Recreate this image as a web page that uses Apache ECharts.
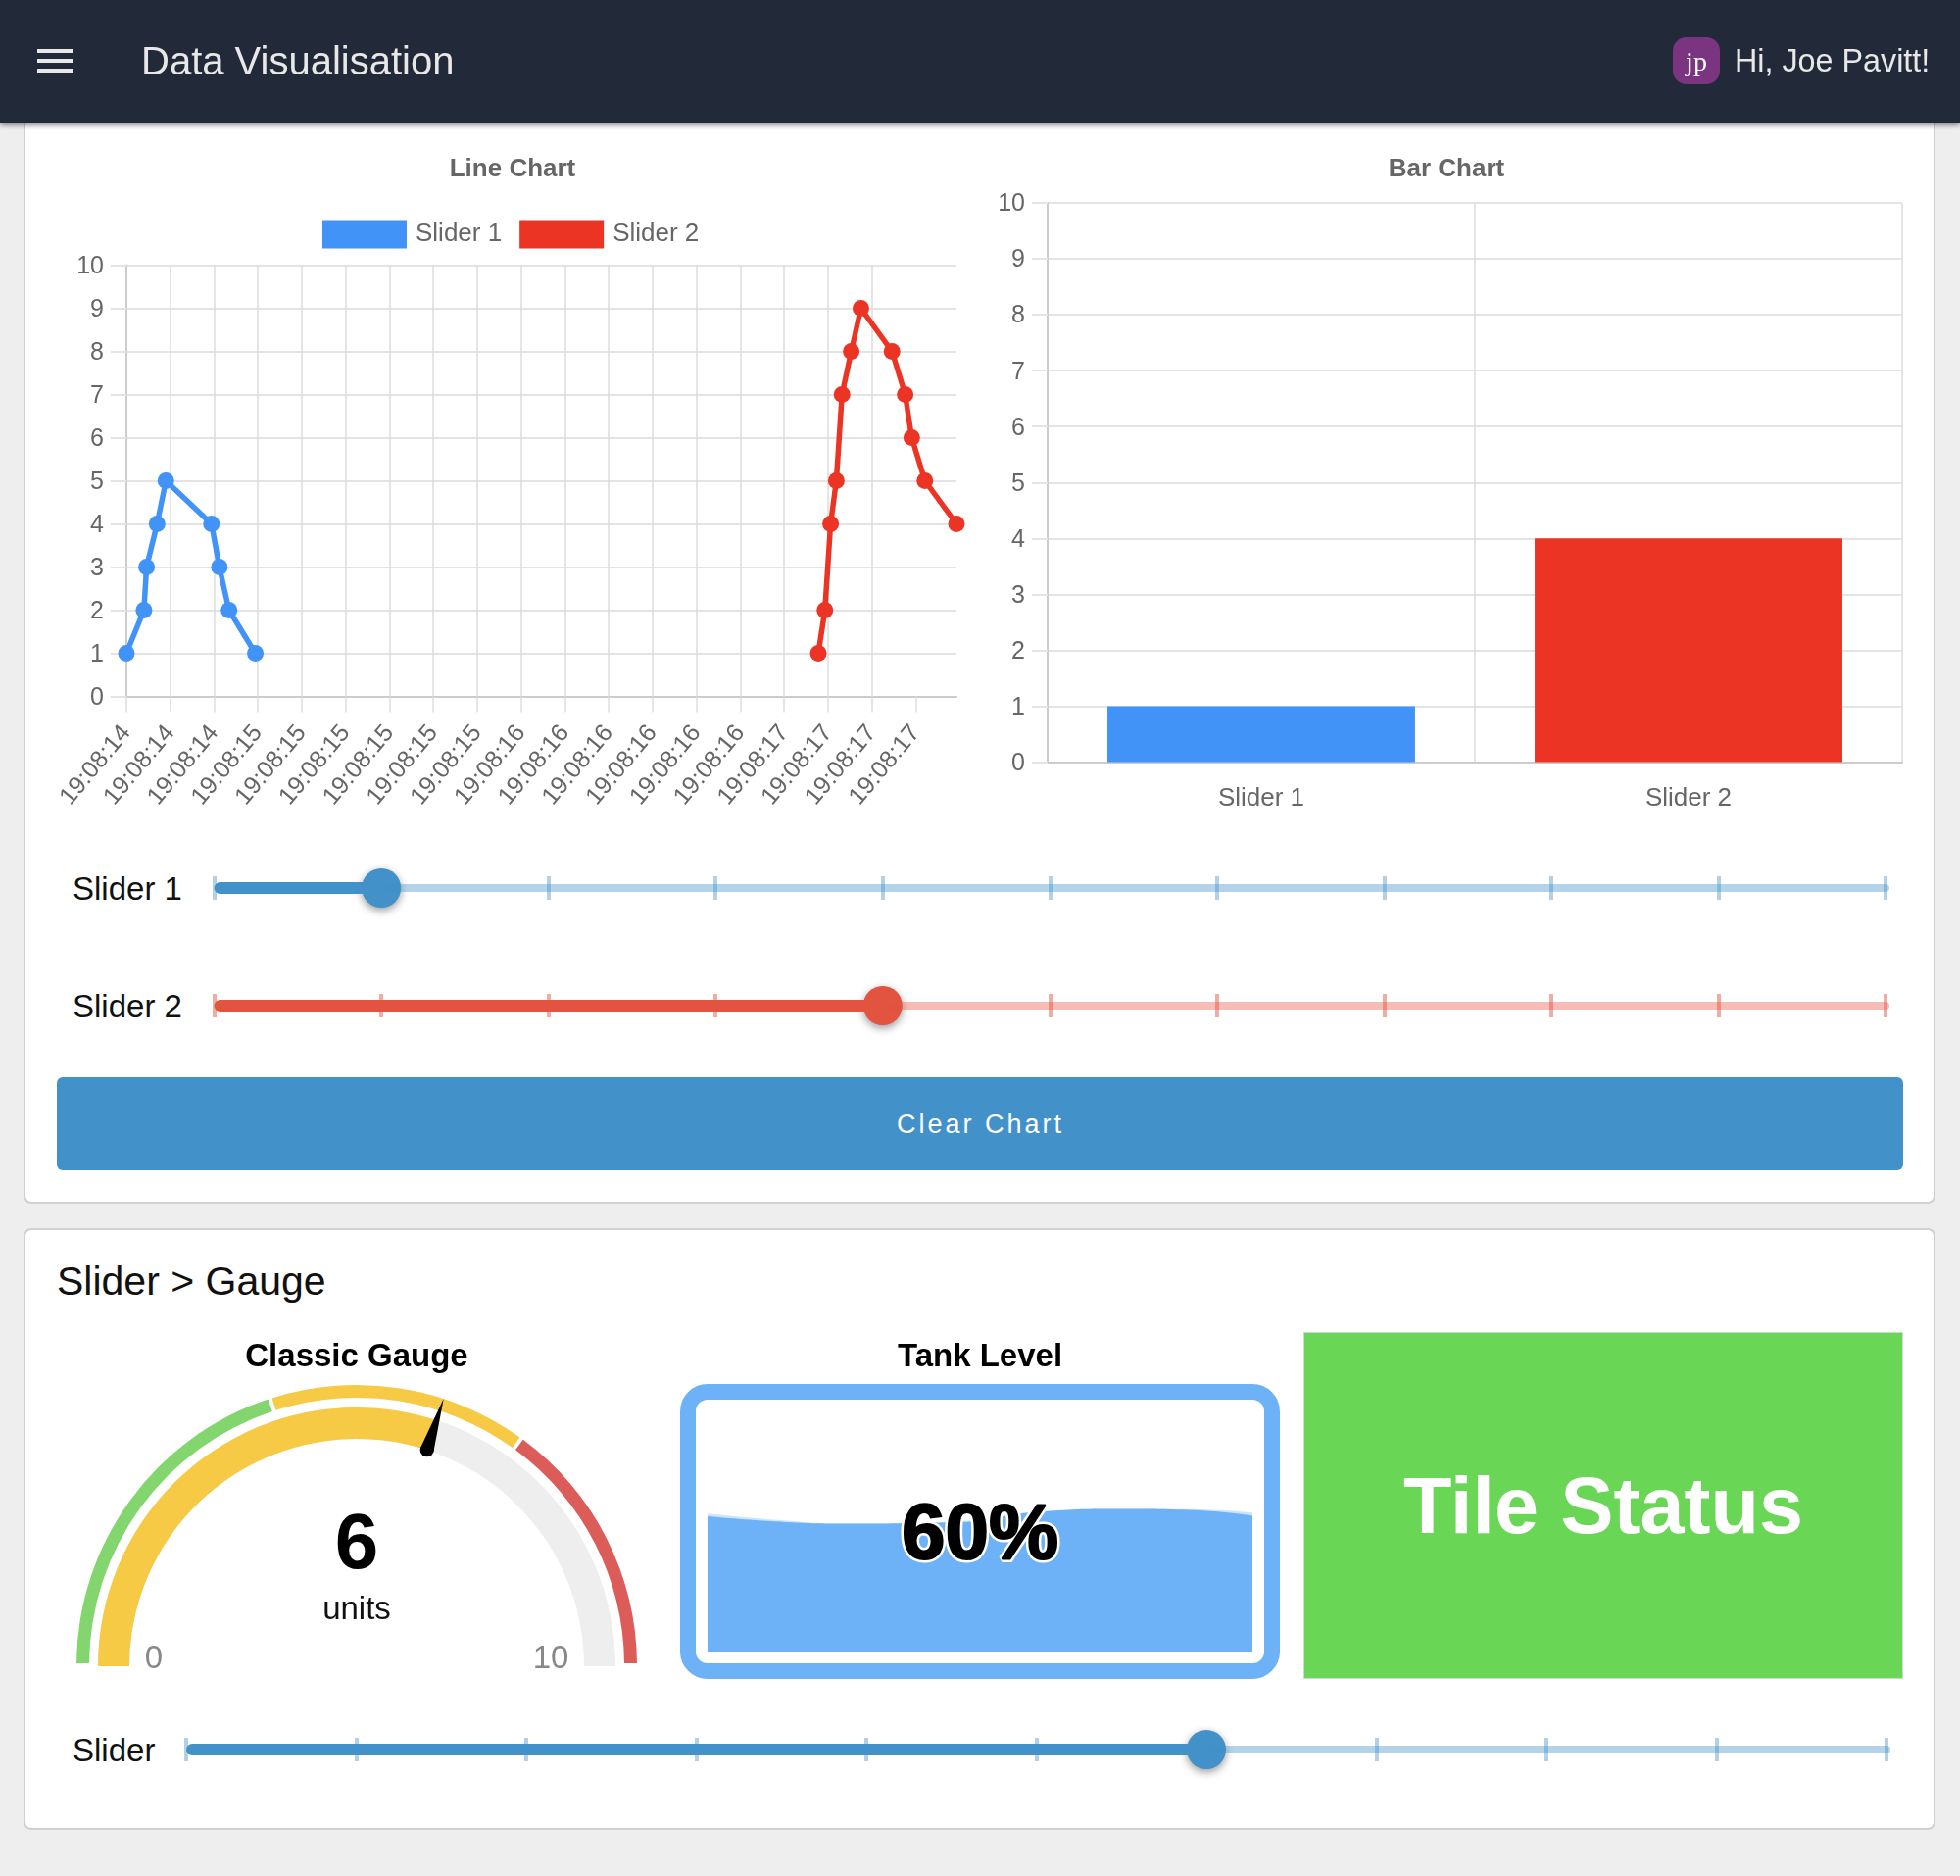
<!DOCTYPE html>
<html>
<head>
<meta charset="utf-8">
<title>Data Visualisation</title>
<script src="https://cdn.jsdelivr.net/npm/echarts@6/dist/echarts.min.js"></script>
<style>
html,body{margin:0;padding:0;background:#eeeeee;font-family:"Liberation Sans",sans-serif;}
#page{position:relative;width:2000px;height:1914px;overflow:hidden;}
#page div{position:absolute;box-sizing:border-box;}
#main{left:0;top:0;width:2000px;height:1914px;z-index:3;}
.card{background:#fff;border:2px solid #d0d0d0;border-radius:8px;}
.txt{white-space:nowrap;line-height:1;}
#nav{left:0;top:0;width:2000px;height:126px;background:#222938;box-shadow:0 2px 5px rgba(0,0,0,.45);z-index:5;}
.bar{left:38px;width:36px;height:4px;background:#e8e8e8;}
</style>
</head>
<body>
<div id="page">
	<div class="card" style="left:24px;top:100px;width:1951px;height:1128px;"></div>
	<div class="card" style="left:24px;top:1253px;width:1951px;height:614px;"></div>

	<div id="nav">
		<div class="bar" style="top:50px;"></div>
		<div class="bar" style="top:60px;"></div>
		<div class="bar" style="top:70px;"></div>
		<div class="txt" style="left:144px;top:42px;font-size:40px;color:#e8e8e8;">Data Visualisation</div>
		<div style="left:1707px;top:38px;width:48px;height:48px;border-radius:14px;background:#7b3480;"></div>
		<div class="txt" style="left:1707px;top:47px;width:48px;text-align:center;font:28px 'Liberation Serif',serif;color:#fff;">jp</div>
		<div class="txt" style="left:1770px;top:46px;font-size:32.3px;color:#e8e8e8;">Hi, Joe Pavitt!</div>
	</div>

	<div class="txt" style="left:74px;top:890px;font-size:33px;color:#111;">Slider 1</div>
	<div class="txt" style="left:74px;top:1010px;font-size:33px;color:#111;">Slider 2</div>
	<div style="left:58px;top:1099px;width:1884px;height:95px;background:#4291c9;border-radius:6px;"></div>
	<div class="txt" style="left:59px;top:1134px;width:1883px;text-align:center;font-size:27px;letter-spacing:3px;color:#fff;">Clear Chart</div>

	<div class="txt" style="left:58px;top:1287px;font-size:41px;color:#111;">Slider &gt; Gauge</div>
	<div class="txt" style="left:74px;top:1769px;font-size:33px;color:#111;">Slider</div>

	<div style="left:694px;top:1412px;width:612px;height:301px;border:16px solid #6db1f6;border-radius:28px;background:#fff;"></div>
	<div style="left:1330px;top:1359px;width:612px;height:354px;background:#69d655;border:1px solid #cfd8cc;"></div>
	<div class="txt" style="left:1330px;top:1496px;width:612px;text-align:center;font-size:81px;font-weight:bold;color:#fff;">Tile Status</div>

	<div id="main"></div>
</div>
<script>
// line chart
var tickLabels = ["19:08:14","19:08:14","19:08:14","19:08:15","19:08:15","19:08:15","19:08:15","19:08:15","19:08:15","19:08:16","19:08:16","19:08:16","19:08:16","19:08:16","19:08:16","19:08:17","19:08:17","19:08:17","19:08:17"];
var tickValues = [0,1,2,3,4,5,6,7,8,9,10,11,12,13,14,15,16,17,18];
var slider1X = [0,0.40,0.46,0.70,0.90,1.94,2.12,2.34,2.94];
var slider1Y = [1,2,3,4,5,4,3,2,1];
var slider2X = [15.78,15.93,16.06,16.19,16.32,16.53,16.75,17.46,17.76,17.91,18.21,18.93];
var slider2Y = [1,2,4,5,7,8,9,8,7,6,5,4];
var lineXMax = 18.93;

// bar chart
var barNames = ["Slider 1","Slider 2"];
var barValues = [1,4];
var barColors = ["#4193f7","#ec3424"];

// gauge
var gaugeValue = 6;
var gaugeMax = 10;
var gaugeBands = [4,3,3];
var gaugeBandColors = ["#83d56e","#f6ca45","#db5c58"];

// tank
var tankLevel = "60%";
var waveX = [0,12.3,25.2,44.8,61.4,75.9,88.2,100];
var waveY = [56.3,54.2,53.3,53.8,58.3,59.4,59.0,56.6];
var waveBackY = [57.5,54.9,53.3,54.2,58.4,59.4,59.3,57.9];

// sliders
var sliderValues = [1,4,6];
var sliderStart = 0.035;

var FONT = "Liberation Sans";
var GREY = "#666";
var GAUGE_X = 364, GAUGE_Y = 1700;

function pairs(xs, ys){
	return xs.map(function (x, i){ return [x, ys[i]]; });
}

// gauge needle: wedge with a round foot, angle comes from the value
function renderNeedle(params, api){
	var a = Math.PI * (1 - api.value(0) / gaugeMax);
	var ux = Math.cos(a), uy = -Math.sin(a);
	var nx = -uy, ny = ux;
	var foot = 232, tip = 287, half = 7;
	var fx = GAUGE_X + ux * foot, fy = GAUGE_Y + uy * foot;
	return {
		type:"group",
		children:[
			{type:"polygon",shape:{points:[
				[GAUGE_X + ux * tip, GAUGE_Y + uy * tip],
				[fx + nx * half, fy + ny * half],
				[fx - nx * half, fy - ny * half]
			]},style:{fill:"#000"}},
			{type:"circle",shape:{cx:fx,cy:fy,r:half},style:{fill:"#000"}}
		]
	};
}

var grids = [
	{left:129, top:270.5, width:847, height:440},
	{left:1069, top:207, width:872, height:570.5},
	{left:722, top:1440, width:556, height:245}
];
var xAxes = [
	{
		gridIndex:0, type:"value", min:0, max:lineXMax, interval:1,
		axisLine:{lineStyle:{color:"#ccc",width:2}},
		axisTick:{length:16,customValues:tickValues,lineStyle:{color:"#ddd",width:1.5}},
		splitLine:{show:true,showMaxLine:false,lineStyle:{color:"#ddd",width:1.5}},
		axisLabel:{
			customValues:tickValues,rotate:50,margin:33,fontSize:25,color:GREY,fontFamily:FONT,
			formatter:function (v){ return tickLabels[v]; }
		}
	},
	{
		gridIndex:1, type:"category", data:barNames,
		axisLine:{lineStyle:{color:"#ccc",width:2}},
		axisTick:{length:16,lineStyle:{color:"#ddd",width:1.5}},
		splitLine:{show:true,lineStyle:{color:"#ddd",width:1.5}},
		axisLabel:{margin:24,fontSize:26,color:GREY,fontFamily:FONT}
	},
	{gridIndex:2, type:"value", min:0, max:100, show:false}
];
var yAxes = [0,1].map(function (g){
	return {
		gridIndex:g, type:"value", min:0, max:10, interval:1,
		axisLine:{show:true,lineStyle:{color:"#ccc",width:2}},
		axisTick:{show:true,length:16,lineStyle:{color:"#e4e4e4",width:2}},
		splitLine:{show:true,lineStyle:{color:"#e4e4e4",width:2}},
		axisLabel:{
			margin:23,formatter:"{a|{value}}",
			rich:{a:{fontSize:25,color:GREY,fontFamily:FONT,padding:[3,0,0,0]}}
		}
	};
});
yAxes.push({gridIndex:2, type:"value", min:0, max:100, show:false});

var series = [
	{
		name:"Slider 1", type:"line", xAxisIndex:0, yAxisIndex:0, data:pairs(slider1X, slider1Y),
		symbol:"circle", symbolSize:17, clip:false, color:barColors[0], lineStyle:{width:5.5}
	},
	{
		name:"Slider 2", type:"line", xAxisIndex:0, yAxisIndex:0, data:pairs(slider2X, slider2Y),
		symbol:"circle", symbolSize:17, clip:false, color:barColors[1], lineStyle:{width:5.5}
	},
	{
		type:"bar", xAxisIndex:1, yAxisIndex:1, barCategoryGap:"28%",
		data:barValues.map(function (v, i){ return {value:v, itemStyle:{color:barColors[i]}}; })
	},
	// outer band of the gauge
	{
		type:"pie", center:[GAUGE_X,1699], radius:[273,286], startAngle:180, endAngle:0, padAngle:0.8,
		silent:true, label:{show:false}, labelLine:{show:false},
		data:gaugeBands.map(function (v, i){ return {value:v, itemStyle:{color:gaugeBandColors[i]}}; })
	},
	{
		type:"gauge", center:[GAUGE_X,GAUGE_Y], radius:264, startAngle:180, endAngle:0, min:0, max:gaugeMax,
		axisLine:{lineStyle:{width:32,color:[[1,"#eeeeee"]]}},
		progress:{show:true,overlap:false,width:32,itemStyle:{color:"#f6ca45"}},
		axisTick:{show:false}, splitLine:{show:false}, axisLabel:{show:false}, anchor:{show:false},
		pointer:{show:false},
		title:{show:true,offsetCenter:[0,-57],fontSize:33,color:"#111",fontFamily:FONT},
		detail:{
			show:true,offsetCenter:[0,-122],fontSize:80,fontWeight:"bold",color:"#000",fontFamily:FONT,
			formatter:"{value}"
		},
		data:[{value:gaugeValue,name:"units"}]
	},
	{type:"custom", coordinateSystem:"none", z:6, silent:true, data:[[gaugeValue]], renderItem:renderNeedle},
	// tank water
	{
		type:"line", xAxisIndex:2, yAxisIndex:2, data:pairs(waveX, waveBackY), smooth:true, symbol:"none",
		lineStyle:{width:0}, areaStyle:{color:"#6db1f6",opacity:0.35}
	},
	{
		type:"line", xAxisIndex:2, yAxisIndex:2, data:pairs(waveX, waveY), smooth:true, symbol:"none",
		lineStyle:{width:0}, areaStyle:{color:"#6db1f6",opacity:1}
	}
];

// one slider = a small grid with its own 0..10 axis
function addSlider(left, right, centerY, value, fill, track, tick){
	var g = grids.length;
	grids.push({left:left, top:centerY-12, width:right-left, height:24});
	xAxes.push({
		gridIndex:g, type:"value", min:0, max:10, interval:1,
		axisLine:{show:false}, axisTick:{show:false}, axisLabel:{show:false},
		splitLine:{show:true,lineStyle:{color:tick,width:4}}
	});
	yAxes.push({gridIndex:g, type:"value", min:0, max:1, show:false});
	series.push({
		type:"line", xAxisIndex:g, yAxisIndex:g, symbol:"none", clip:false,
		data:[[sliderStart,0.5],[10,0.5]], lineStyle:{color:track,width:8,cap:"round"}
	});
	series.push({
		type:"line", xAxisIndex:g, yAxisIndex:g, symbol:"none", clip:false,
		data:[[sliderStart,0.5],[value,0.5]], lineStyle:{color:fill,width:12,cap:"round"}
	});
	series.push({
		type:"scatter", xAxisIndex:g, yAxisIndex:g, symbolSize:40, clip:false, data:[[value,0.5]],
		itemStyle:{color:fill,opacity:1,shadowBlur:8,shadowOffsetY:3,shadowColor:"rgba(0,0,0,.4)"}
	});
}
addSlider(218.6, 1924, 906, sliderValues[0], "#4291c9", "rgba(66,145,201,.4)", "rgba(66,145,201,.42)");
addSlider(218.6, 1924, 1026, sliderValues[1], "#e25340", "rgba(226,83,64,.38)", "rgba(226,83,64,.48)");
addSlider(190, 1925, 1785, sliderValues[2], "#4291c9", "rgba(66,145,201,.4)", "rgba(66,145,201,.42)");

var option = {
	animation:false,
	textStyle:{fontFamily:FONT},
	title:[
		{text:"Line Chart",left:523,top:160,padding:0,textAlign:"center",textStyle:{fontSize:26,fontWeight:"bold",color:GREY,fontFamily:FONT}},
		{text:"Bar Chart",left:1476,top:160,padding:0,textAlign:"center",textStyle:{fontSize:26,fontWeight:"bold",color:GREY,fontFamily:FONT}},
		{text:"Classic Gauge",left:364,top:1368,padding:0,textAlign:"center",textStyle:{fontSize:33,fontWeight:"bold",color:"#000",fontFamily:FONT}},
		{text:"Tank Level",left:1000,top:1368,padding:0,textAlign:"center",textStyle:{fontSize:33,fontWeight:"bold",color:"#000",fontFamily:FONT}}
	],
	legend:{
		left:324, top:219.5, icon:"rect", itemWidth:86, itemHeight:29, itemGap:18, selectedMode:false,
		data:["Slider 1","Slider 2"],
		textStyle:{fontSize:26,color:GREY,fontFamily:FONT,padding:[2,0,0,4]}
	},
	grid:grids,
	xAxis:xAxes,
	yAxis:yAxes,
	series:series,
	graphic:[
		{type:"text",x:157,y:1693,z:10,style:{text:"0",fontSize:33,fill:"#888",align:"center",verticalAlign:"middle",fontFamily:FONT}},
		{type:"text",x:562,y:1693,z:10,style:{text:"10",fontSize:33,fill:"#888",align:"center",verticalAlign:"middle",fontFamily:FONT}},
		{type:"text",x:1000,y:1568,z:10,style:{text:tankLevel,fontSize:80,fontWeight:"bold",fill:"#000",stroke:"#fff",lineWidth:7,lineJoin:"round",align:"center",verticalAlign:"middle",fontFamily:FONT}},
		{type:"text",x:1000,y:1568,z:11,style:{text:tankLevel,fontSize:80,fontWeight:"bold",fill:"#000",stroke:"#000",lineWidth:2,align:"center",verticalAlign:"middle",fontFamily:FONT}}
	]
};

var myChart = echarts.init(document.getElementById("main"));
myChart.setOption(option);
</script>
</body>
</html>
